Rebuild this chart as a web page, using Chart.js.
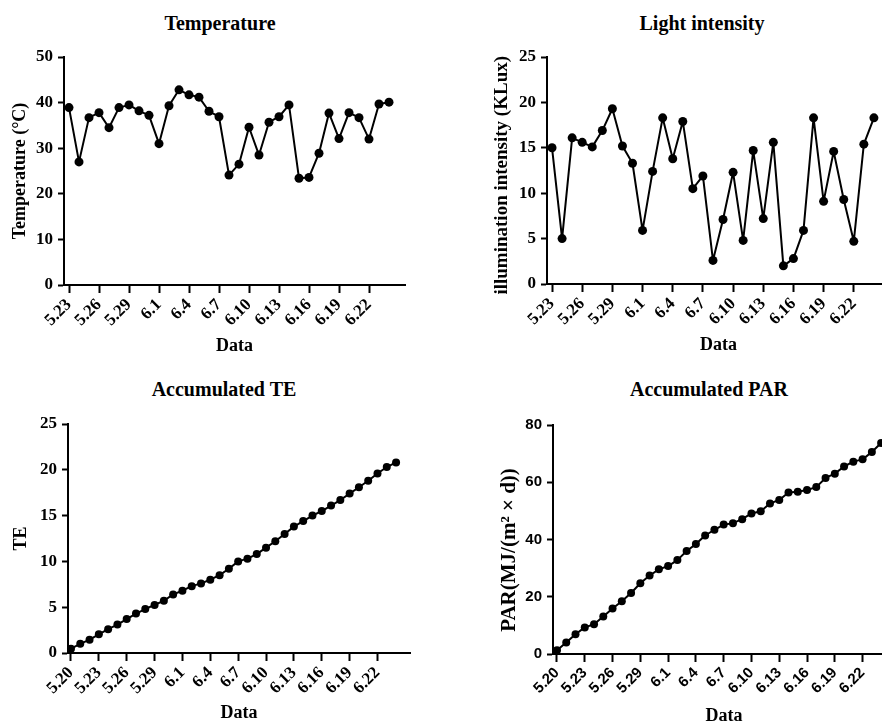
<!DOCTYPE html>
<html>
<head>
<meta charset="utf-8">
<script src="https://cdn.jsdelivr.net/npm/chart.js@4.4.1/dist/chart.umd.min.js"></script>
<style>
  html, body { margin: 0; padding: 0; background: #fff; }
  body { width: 882px; height: 725px; position: relative; overflow: hidden; }
  canvas { position: absolute; }
  .ttl { position: absolute; width: 300px; text-align: center; font: bold 20px "Liberation Serif", "Times New Roman", serif; line-height: 20px; color: #000; }
</style>
</head>
<body>
<div class="ttl" style="left:70px;top:13px">Temperature</div>
<div class="ttl" style="left:552px;top:13px">Light intensity</div>
<div class="ttl" style="left:74px;top:379px">Accumulated TE</div>
<div class="ttl" style="left:559px;top:379px">Accumulated PAR</div>

<canvas id="tempChart" width="440" height="362" style="left:0;top:0"></canvas>
<canvas id="lightChart" width="460" height="362" style="left:440px;top:0"></canvas>
<canvas id="teChart" width="440" height="363" style="left:0;top:362px"></canvas>
<canvas id="parChart" width="460" height="365" style="left:440px;top:362px"></canvas>

<script>
// dates
const daysTop = ['5.23','5.24','5.25','5.26','5.27','5.28','5.29','5.30','5.31',
  '6.1','6.2','6.3','6.4','6.5','6.6','6.7','6.8','6.9','6.10','6.11','6.12',
  '6.13','6.14','6.15','6.16','6.17','6.18','6.19','6.20','6.21','6.22','6.23','6.24'];
const daysBottom = ['5.20','5.21','5.22','5.23','5.24','5.25','5.26','5.27','5.28','5.29','5.30','5.31',
  '6.1','6.2','6.3','6.4','6.5','6.6','6.7','6.8','6.9','6.10','6.11','6.12',
  '6.13','6.14','6.15','6.16','6.17','6.18','6.19','6.20','6.21','6.22','6.23','6.24'];

// tick labels shown on the x axes
const ticksTop = ['5.23','5.26','5.29','6.1','6.4','6.7','6.10','6.13','6.16','6.19','6.22'];
const ticksBottom = ['5.20','5.23','5.26','5.29','6.1','6.4','6.7','6.10','6.13','6.16','6.19','6.22'];

// series
const temperature = [38.9,27.0,36.7,37.8,34.5,38.9,39.5,38.2,37.2,31.0,39.3,42.8,41.7,41.2,38.1,36.9,
  24.1,26.5,34.6,28.5,35.7,36.9,39.5,23.4,23.6,28.9,37.7,32.1,37.8,36.7,32.0,39.7,40.1];
const light = [15.0,5.0,16.1,15.6,15.1,16.9,19.3,15.2,13.3,5.9,12.4,18.3,13.8,17.9,10.5,11.9,
  2.6,7.1,12.3,4.8,14.7,7.2,15.6,2.0,2.8,5.9,18.3,9.1,14.6,9.3,4.7,15.4,18.3];
const accTE = [0.47,1.0,1.46,2.04,2.6,3.1,3.7,4.3,4.8,5.25,5.7,6.4,6.8,7.3,7.6,8.0,8.5,9.2,
  10.0,10.3,10.8,11.5,12.2,13.0,13.8,14.4,15.0,15.5,16.1,16.7,17.4,18.1,18.8,19.6,20.3,20.8];
const accPAR = [1.3,4.0,6.9,9.3,10.4,13.1,15.9,18.4,21.3,24.7,27.4,29.6,30.7,32.8,36.0,38.4,41.4,43.4,
  45.2,45.7,47.1,49.1,49.9,52.6,53.8,56.4,56.7,57.3,58.3,61.5,63.0,65.5,67.2,68.0,70.6,73.7];

Chart.defaults.color = '#000';
Chart.defaults.font.family = '"Liberation Serif", "Times New Roman", serif';
Chart.defaults.font.weight = 'bold';

const serif = '"Liberation Serif", "Times New Roman", serif';
const sans = '"Liberation Sans", Arial, sans-serif';

function makeChart(id, cfg) {
  const pts = cfg.values.map((v, i) => ({ x: i, y: v }));
  const tickIdx = cfg.ticks.map(t => cfg.days.indexOf(t));
  new Chart(document.getElementById(id), {
    type: 'line',
    data: {
      datasets: [{
        data: pts,
        borderColor: '#000',
        borderWidth: 2,
        borderJoinStyle: 'round',
        backgroundColor: '#000',
        pointBackgroundColor: '#000',
        pointBorderColor: '#000',
        pointRadius: cfg.radius,
        pointBorderWidth: 0,
        tension: 0,
        clip: false
      }]
    },
    options: {
      responsive: false,
      animation: false,
      events: [],
      layout: { padding: cfg.pad },
      plugins: { legend: { display: false }, tooltip: { enabled: false } },
      scales: {
        x: {
          type: 'linear',
          min: cfg.xmin,
          max: cfg.xmax,
          afterBuildTicks: s => { s.ticks = tickIdx.map(v => ({ value: v })); },
          afterFit: s => { s.height = cfg.xh; },
          grid: { drawOnChartArea: false, drawTicks: true, tickLength: 8, tickWidth: 2, color: '#000' },
          border: { display: true, color: '#000', width: 2 },
          ticks: {
            autoSkip: false, minRotation: 45, maxRotation: 45, padding: 2,
            font: { family: cfg.tickFont, size: cfg.xTickSize, weight: 'bold' },
            callback: v => cfg.days[v] || ''
          },
          title: { display: true, text: 'Data', font: { family: serif, size: 18, weight: 'bold' }, padding: { top: 0, bottom: 0 } }
        },
        y: {
          min: 0,
          max: cfg.ymax,
          afterFit: s => { s.width = cfg.yw; },
          grid: { drawOnChartArea: false, drawTicks: true, tickLength: 6, tickWidth: 2, color: '#000' },
          border: { display: true, color: '#000', width: 2 },
          ticks: { stepSize: cfg.ystep, padding: 5, font: { family: cfg.tickFont, size: cfg.yTickSize, weight: 'bold' } },
          title: { display: true, text: cfg.ytitle, font: { family: serif, size: cfg.ytitleSize, weight: 'bold' }, padding: { top: cfg.ytitlePad, bottom: 0 } }
        }
      }
    }
  });
}

makeChart('tempChart', {
  days: daysTop, ticks: ticksTop, values: temperature,
  xmin: -0.5, xmax: 33.6, ymax: 50, ystep: 10,
  ytitle: 'Temperature (°C)', ytitleSize: 18, ytitlePad: 10,
  yw: 64, xh: 72, pad: { left: 0, top: 57, right: 35, bottom: 5 },
  tickFont: serif, xTickSize: 17, yTickSize: 17, radius: 4.5
});

makeChart('lightChart', {
  days: daysTop, ticks: ticksTop, values: light,
  xmin: -0.5, xmax: 33.6, ymax: 25, ystep: 5,
  ytitle: 'illumination intensity (KLux)\u00a0\u00a0', ytitleSize: 19, ytitlePad: 51,
  yw: 107, xh: 72, pad: { left: 0, top: 57, right: 10, bottom: 6 },
  tickFont: serif, xTickSize: 17, yTickSize: 17, radius: 4.5
});

makeChart('teChart', {
  days: daysBottom, ticks: ticksBottom, values: accTE,
  xmin: -0.32, xmax: 36.5, ymax: 25, ystep: 5,
  ytitle: 'TE', ytitleSize: 18, ytitlePad: 11,
  yw: 68, xh: 71, pad: { left: 0, top: 62, right: 30, bottom: 1 },
  tickFont: serif, xTickSize: 17, yTickSize: 17, radius: 4
});

makeChart('parChart', {
  days: daysBottom, ticks: ticksBottom, values: accPAR,
  xmin: -0.43, xmax: 36.5, ymax: 80, ystep: 20,
  ytitle: 'PAR(MJ/(m² × d))\u00a0\u00a0\u00a0\u00a0', ytitleSize: 21, ytitlePad: 57,
  yw: 113, xh: 73, pad: { left: 0, top: 63, right: 5, bottom: 0 },
  tickFont: sans, xTickSize: 15, yTickSize: 15, radius: 4
});
</script>
</body>
</html>
